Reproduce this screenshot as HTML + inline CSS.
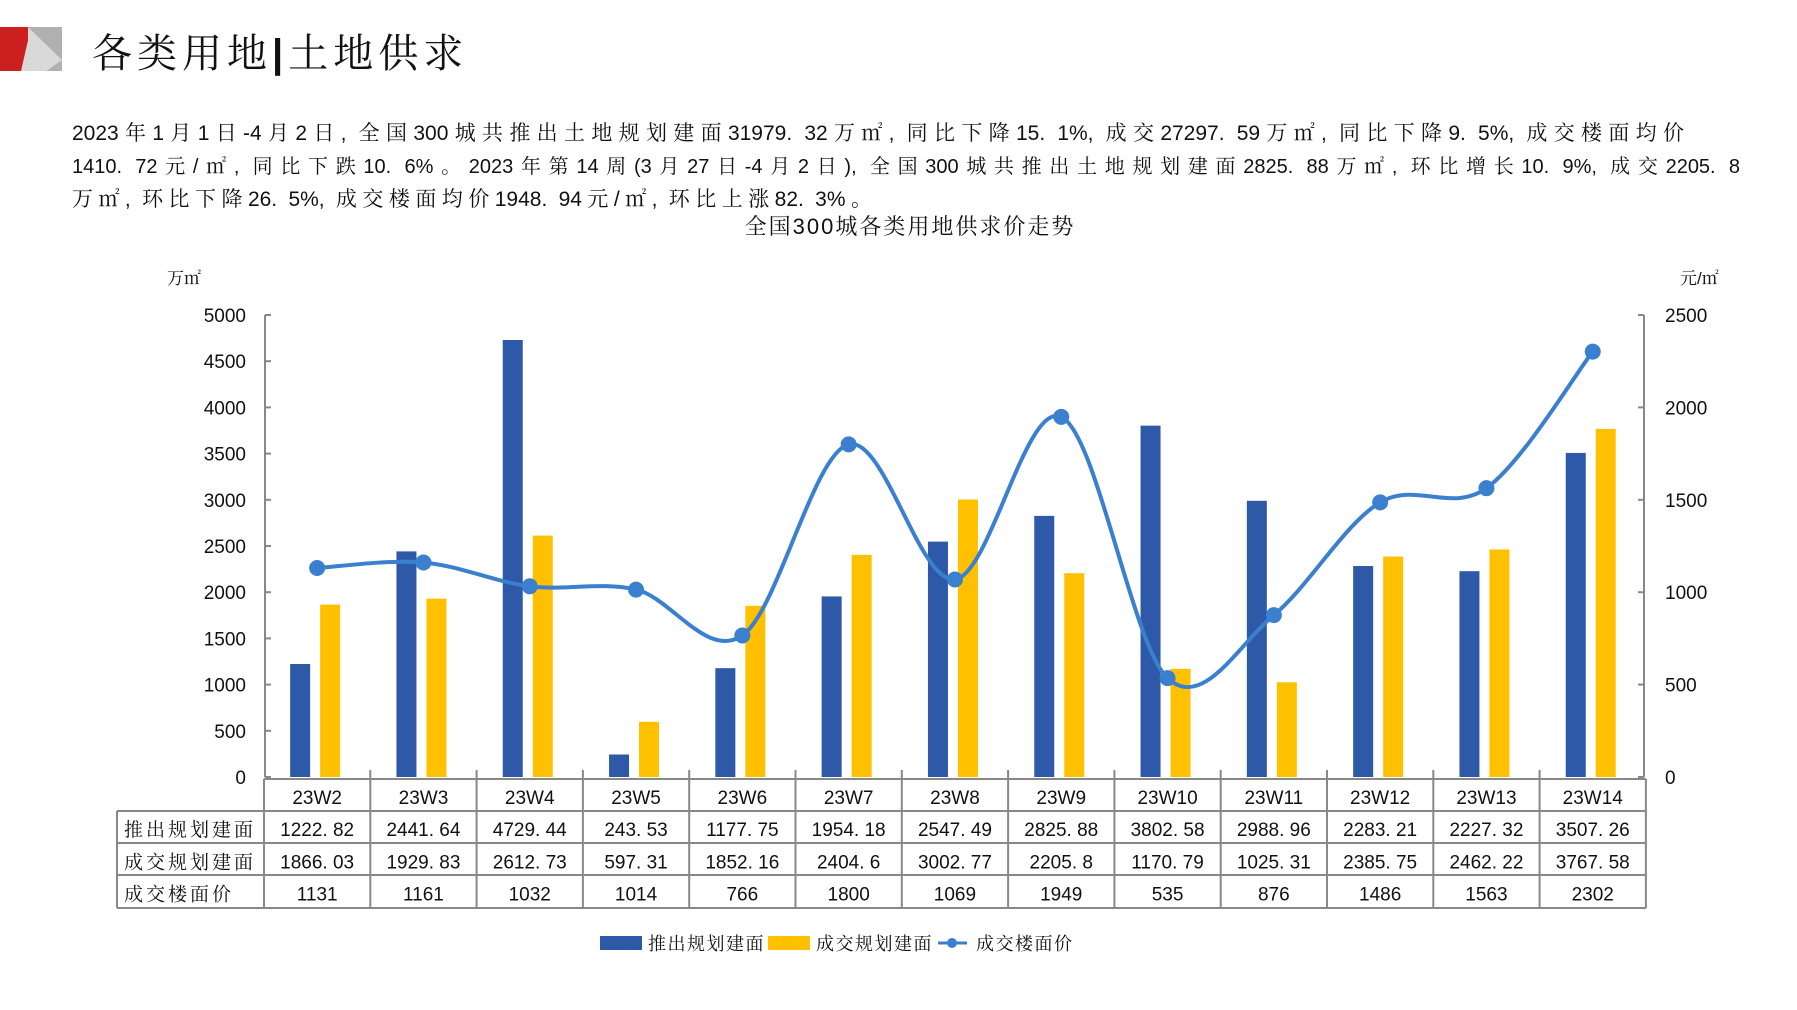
<!DOCTYPE html>
<html><head><meta charset="utf-8">
<style>
body{margin:0;width:1797px;height:1010px;background:#fff;overflow:hidden;position:relative;font-family:"Liberation Sans","Noto Serif CJK SC",serif;}
.p{position:absolute;left:72px;font-size:21px;color:#111;font-family:"Liberation Sans","Noto Serif CJK SC",serif;white-space:nowrap;text-align:justify;text-align-last:justify;}
</style></head><body>
<div style="position:absolute;left:0;top:27px;width:62px;height:44px;background:#d9d9d9"></div>
<div style="position:absolute;left:0;top:27px;width:28px;height:44px;background:#cc1f1f;clip-path:polygon(0 0,100% 0,100% 30%,75% 100%,0 100%)"></div>
<div style="position:absolute;left:0;top:27px;width:62px;height:44px;background:#b0b0b0;clip-path:polygon(45% 0,100% 0,100% 100%,75% 100%,100% 75%)"></div>
<div style="position:absolute;left:92px;top:22px;font-size:40px;font-family:'Liberation Serif','Noto Serif CJK SC',serif;letter-spacing:5px;color:#111">各类用地<span style="font-family:'Liberation Sans',sans-serif;font-weight:bold">|</span>土地供求</div>
<div class="p" style="top:117px;width:1612px">2023年1月1日-4月2日, 全国300城共推出土地规划建面31979. 32万㎡, 同比下降15. 1%, 成交27297. 59万㎡, 同比下降9. 5%, 成交楼面均价</div>
<div class="p" style="top:150px;width:1668px;font-size:20px">1410. 72元/㎡, 同比下跌10. 6%。2023年第14周(3月27日-4月2日), 全国300城共推出土地规划建面2825. 88万㎡, 环比增长10. 9%, 成交2205. 8</div>
<div class="p" style="top:183px;width:800px">万㎡, 环比下降26. 5%, 成交楼面均价1948. 94元/㎡, 环比上涨82. 3%。</div>
<svg id="c" width="1797" height="1010" style="position:absolute;left:0;top:0" font-family="Liberation Sans, Noto Serif CJK SC, sans-serif"></svg>
<script>
const s=document.getElementById('c');let h='';
const L=264,W=106.3,Z=777,R=1646;
const cats=['23W2','23W3','23W4','23W5','23W6','23W7','23W8','23W9','23W10','23W11','23W12','23W13','23W14'];
const a=[1222.82,2441.64,4729.44,243.53,1177.75,1954.18,2547.49,2825.88,3802.58,2988.96,2283.21,2227.32,3507.26];
const b=[1866.03,1929.83,2612.73,597.31,1852.16,2404.6,3002.77,2205.8,1170.79,1025.31,2385.75,2462.22,3767.58];
const p=[1131,1161,1032,1014,766,1800,1069,1949,535,876,1486,1563,2302];
h+=`<text x="910" y="234" font-size="22" text-anchor="middle" letter-spacing="2" fill="#111">全国300城各类用地供求价走势</text>`;
h+=`<text x="167" y="284" font-size="17" fill="#111">万㎡</text><text x="1680" y="284" font-size="17" fill="#111">元/㎡</text>`;
h+=`<line x1="265" y1="315" x2="265" y2="777" stroke="#888" stroke-width="2"/><line x1="1644" y1="315" x2="1644" y2="777" stroke="#888" stroke-width="2"/>`;
for(let i=0;i<=10;i++){let y=Z-i*46.2;h+=`<line x1="265" y1="${y}" x2="271" y2="${y}" stroke="#888" stroke-width="2"/><text x="246" y="${y+7}" font-size="19" text-anchor="end" fill="#111">${i*500}</text>`;}
for(let i=0;i<=5;i++){let y=Z-i*92.4;h+=`<line x1="1638" y1="${y}" x2="1644" y2="${y}" stroke="#888" stroke-width="2"/><text x="1665" y="${y+7}" font-size="19" fill="#111">${i*500}</text>`;}
const X=i=>L+W*(i+.5);
for(let i=0;i<13;i++){let c=X(i);
h+=`<rect x="${c-27}" y="${Z-a[i]*0.0924}" width="20" height="${a[i]*0.0924}" fill="#2e59a8"/>`;
h+=`<rect x="${c+3}" y="${Z-b[i]*0.0924}" width="20" height="${b[i]*0.0924}" fill="#ffc000"/>`;}
const pts=p.map((v,i)=>[X(i),Z-v*0.1848]);
let d=`M${pts[0][0]},${pts[0][1]}`;
for(let i=0;i<pts.length-1;i++){const p0=pts[Math.max(i-1,0)],p1=pts[i],p2=pts[i+1],p3=pts[Math.min(i+2,pts.length-1)];const t=6;
d+=` C${p1[0]+(p2[0]-p0[0])/t},${p1[1]+(p2[1]-p0[1])/t} ${p2[0]-(p3[0]-p1[0])/t},${p2[1]-(p3[1]-p1[1])/t} ${p2[0]},${p2[1]}`;}
h+=`<path d="${d}" fill="none" stroke="#3b7fcf" stroke-width="4"/>`;
pts.forEach(q=>h+=`<circle cx="${q[0]}" cy="${q[1]}" r="8" fill="#3b7fcf"/>`);
const ST='stroke="#888" stroke-width="2"';
h+=`<line x1="${L}" y1="779" x2="${R}" y2="779" ${ST}/>`;
[811,843,875,908].forEach(y=>h+=`<line x1="117" y1="${y}" x2="${R}" y2="${y}" ${ST}/>`);
h+=`<line x1="117" y1="811" x2="117" y2="908" ${ST}/>`;
for(let i=0;i<=13;i++){let x=L+W*i;h+=`<line x1="${x}" y1="${i==0||i==13?779:770}" x2="${x}" y2="908" ${ST}/>`;}
const rows=[['推出规划建面',a],['成交规划建面',b],['成交楼面价',p]];
for(let i=0;i<13;i++)h+=`<text x="${X(i)}" y="804" font-size="19" text-anchor="middle" fill="#111">${cats[i]}</text>`;
rows.forEach((r,k)=>{let y=836+k*32.3;h+=`<text x="124" y="${y}" font-size="19" letter-spacing="3" fill="#111">${r[0]}</text>`;
r[1].forEach((v,i)=>{let t=k==2?v:(''+v).replace('.','. ');h+=`<text x="${X(i)}" y="${y}" font-size="19" text-anchor="middle" fill="#111">${t}</text>`;});});
h+=`<rect x="600" y="936" width="42" height="14" fill="#2e59a8"/><text x="648" y="950" font-size="18" letter-spacing="1.5" fill="#111">推出规划建面</text>`;
h+=`<rect x="768" y="936" width="42" height="14" fill="#ffc000"/><text x="816" y="950" font-size="18" letter-spacing="1.5" fill="#111">成交规划建面</text>`;
h+=`<line x1="938" y1="943" x2="967" y2="943" stroke="#3b7fcf" stroke-width="3"/><circle cx="952" cy="943" r="5" fill="#3b7fcf"/><text x="976" y="950" font-size="18" letter-spacing="1.5" fill="#111">成交楼面价</text>`;
s.innerHTML=h;
</script>
</body></html>
